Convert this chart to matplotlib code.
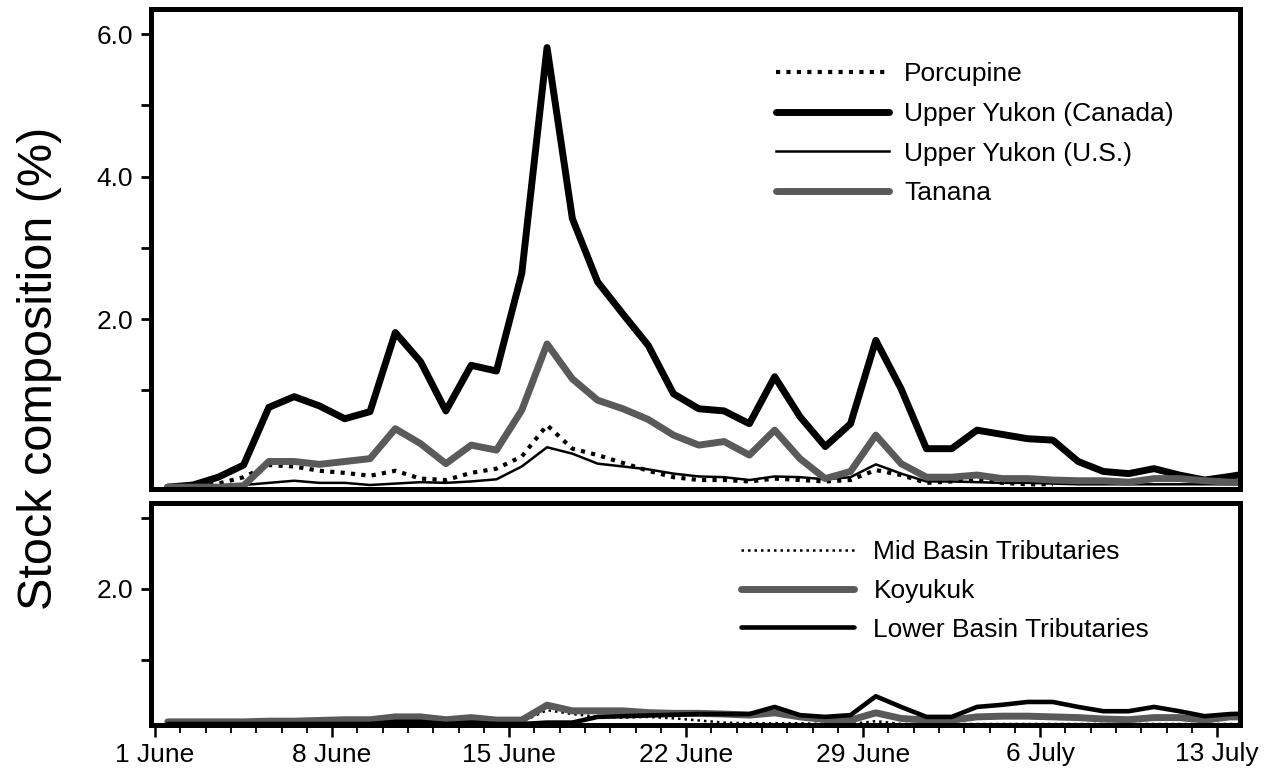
import numpy as np
import matplotlib
matplotlib.use("Agg")
import matplotlib.pyplot as plt
from matplotlib.ticker import FixedLocator

plt.rcParams['font.family'] = ['Liberation Sans', 'DejaVu Sans']

# ---- data (daily samples starting 1 June) ----
porcupine = [-0.36, -0.35, -0.31, -0.22, -0.05, -0.07, -0.13, -0.16, -0.20, -0.13,
             -0.24, -0.26, -0.16, -0.10, 0.07, 0.51, 0.18, 0.09, -0.02, -0.13,
             -0.22, -0.26, -0.26, -0.28, -0.24, -0.26, -0.28, -0.26, -0.12, -0.19,
             -0.30, -0.28, -0.25, -0.30, -0.32, -0.32]
upper_yukon_canada = [-0.36, -0.33, -0.22, -0.05, 0.76, 0.91, 0.78, 0.60, 0.70, 1.81,
                      1.40, 0.71, 1.35, 1.27, 2.64, 5.81, 3.41, 2.52, 2.07, 1.63,
                      0.95, 0.74, 0.71, 0.53, 1.19, 0.63, 0.21, 0.53, 1.70, 1.02,
                      0.18, 0.18, 0.44, 0.38, 0.32, 0.30, 0.00, -0.14, -0.17, -0.10,
                      -0.19, -0.26, -0.21, -0.15]
upper_yukon_us = [-0.36, -0.36, -0.35, -0.33, -0.30, -0.27, -0.30, -0.30, -0.33, -0.31,
                  -0.29, -0.30, -0.28, -0.25, -0.07, 0.20, 0.11, -0.03, -0.07, -0.11,
                  -0.17, -0.21, -0.22, -0.26, -0.21, -0.22, -0.25, -0.22, -0.04, -0.17,
                  -0.28, -0.28, -0.29, -0.30, -0.30, -0.31, -0.32, -0.32, -0.32, -0.32,
                  -0.32, -0.32, -0.32, -0.32]
tanana = [-0.36, -0.36, -0.36, -0.34, 0.00, 0.00, -0.04, 0.00, 0.04, 0.46,
          0.25, -0.03, 0.23, 0.16, 0.72, 1.65, 1.16, 0.86, 0.74, 0.59,
          0.37, 0.23, 0.28, 0.09, 0.44, 0.04, -0.24, -0.14, 0.37, -0.03,
          -0.22, -0.22, -0.19, -0.24, -0.24, -0.26, -0.27, -0.27, -0.29, -0.24,
          -0.24, -0.27, -0.29, -0.29]

mid_basin = [0.10, 0.10, 0.10, 0.10, 0.10, 0.10, 0.11, 0.11, 0.11, 0.11,
             0.11, 0.11, 0.11, 0.12, 0.13, 0.295, 0.24, 0.20, 0.19, 0.20,
             0.18, 0.15, 0.12, 0.11, 0.11, 0.11, 0.10, 0.10, 0.14, 0.10,
             0.10, 0.10, 0.10, 0.10, 0.10, 0.10, 0.10, 0.10, 0.10, 0.10,
             0.10, 0.10, 0.10, 0.10]
koyukuk = [0.13, 0.13, 0.13, 0.13, 0.14, 0.14, 0.15, 0.16, 0.16, 0.20,
           0.20, 0.16, 0.19, 0.155, 0.155, 0.365, 0.285, 0.285, 0.285, 0.26,
           0.25, 0.25, 0.24, 0.225, 0.257, 0.20, 0.163, 0.155, 0.257, 0.178,
           0.155, 0.155, 0.20, 0.21, 0.21, 0.20, 0.19, 0.17, 0.16, 0.19,
           0.19, 0.155, 0.20, 0.20]
lower_basin = [0.10, 0.10, 0.10, 0.10, 0.10, 0.10, 0.10, 0.10, 0.10, 0.13,
               0.13, 0.10, 0.12, 0.10, 0.10, 0.12, 0.12, 0.20, 0.21, 0.22,
               0.23, 0.24, 0.24, 0.24, 0.34, 0.225, 0.20, 0.225, 0.49, 0.34,
               0.20, 0.20, 0.34, 0.37, 0.41, 0.41, 0.34, 0.28, 0.28, 0.34,
               0.28, 0.21, 0.24, 0.25]

tick_days = [0, 7, 14, 21, 28, 35, 42]
tick_labels = ['1 June', '8 June', '15 June', '22 June', '29 June', '6 July', '13 July']

def xs(series):
    # samples plotted at mid-day of each day since 1 June
    return np.arange(len(series)) + 0.5

GRAY = '#5a5a5a'
FS = 19
W, H = 1264, 772
fig = plt.figure(figsize=(W / 100, H / 100), dpi=100)

def frac_box(left, right, top, bottom):
    return [left / W, 1 - bottom / H, (right - left) / W, (bottom - top) / H]

ax1 = fig.add_axes(frac_box(150.5, 1240, 8.5, 489))
ax2 = fig.add_axes(frac_box(150.5, 1240, 502.5, 725))

# ---- top panel ----
ax1.plot(xs(porcupine), porcupine, color='black', lw=3, ls=(0, (1, 1.5)),
         label='Porcupine')
ax1.plot(xs(upper_yukon_canada), upper_yukon_canada, color='black', lw=5,
         solid_capstyle='round', solid_joinstyle='round', label='Upper Yukon (Canada)')
ax1.plot(xs(upper_yukon_us), upper_yukon_us, color='black', lw=1.8,
         label='Upper Yukon (U.S.)')
ax1.plot(xs(tanana), tanana, color=GRAY, lw=5, solid_capstyle='round',
         solid_joinstyle='round', label='Tanana')

# ---- bottom panel ----
ax2.plot(xs(mid_basin), mid_basin, color='black', lw=1.8, ls=(0, (1, 1.6)),
         label='Mid Basin Tributaries')
ax2.plot(xs(koyukuk), koyukuk, color=GRAY, lw=5, solid_capstyle='round',
         solid_joinstyle='round', label='Koyukuk')
ax2.plot(xs(lower_basin), lower_basin, color='black', lw=3.3, solid_capstyle='round',
         solid_joinstyle='round', label='Lower Basin Tributaries')

for ax in (ax1, ax2):
    ax.set_xlim(-0.18, 42.9)
    for s in ax.spines.values():
        s.set_linewidth(3.6)
        s.set_color('black')
    ax.tick_params(axis='y', which='both', direction='out', length=7.5, width=2,
                   labelsize=FS, pad=5, right=False)

ax1.set_ylim(-0.386, 6.358)
ax1.yaxis.set_major_locator(FixedLocator([2, 4, 6]))
ax1.yaxis.set_minor_locator(FixedLocator([1, 3, 5]))
ax1.set_yticklabels(['2.0', '4.0', '6.0'])
ax1.tick_params(axis='x', which='both', bottom=False, top=False, labelbottom=False)

ax2.set_ylim(0.086, 3.214)
ax2.yaxis.set_major_locator(FixedLocator([2]))
ax2.yaxis.set_minor_locator(FixedLocator([1, 3]))
ax2.set_yticklabels(['2.0'])
ax2.xaxis.set_major_locator(FixedLocator(tick_days))
ax2.xaxis.set_minor_locator(FixedLocator(list(range(0, 43))))
ax2.set_xticklabels(tick_labels)
ax2.tick_params(axis='x', which='major', direction='out', length=8.6, width=1.8,
                labelsize=FS, pad=4, top=False)
ax2.tick_params(axis='x', which='minor', direction='out', length=5.8, width=1.3, top=False)

# ---- legends ----
ax1.legend(loc='upper left', bbox_to_anchor=(776 / W, 1 - 62 / H),
           bbox_transform=fig.transFigure, frameon=False, fontsize=FS,
           handlelength=4.3, handletextpad=0.55, labelspacing=0.6,
           borderpad=0, borderaxespad=0)
ax2.legend(loc='upper left', bbox_to_anchor=(741 / W, 1 - 540 / H),
           bbox_transform=fig.transFigure, frameon=False, fontsize=FS,
           handlelength=4.3, handletextpad=0.72, labelspacing=0.56,
           borderpad=0, borderaxespad=0)

fig.text(40 / W, 1 - 368 / H, 'Stock composition (%)', rotation=90,
         ha='center', va='center', fontsize=35)

fig.savefig('out.png', dpi=100)
